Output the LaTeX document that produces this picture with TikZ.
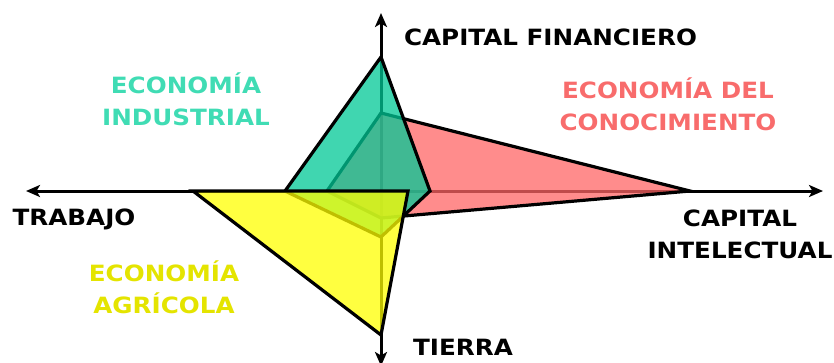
\documentclass[tikz,border=0pt]{standalone}
\usepackage{fontspec}
\setmainfont{DejaVu Sans}[FakeStretch=1.1]
\usetikzlibrary{arrows.meta}
\definecolor{tealfill}{RGB}{0,200,150}
\definecolor{redfill}{RGB}{255,101,101}
\definecolor{yelfill}{RGB}{255,255,0}
\definecolor{tealtxt}{RGB}{64,220,180}
\definecolor{redtxt}{RGB}{248,108,108}
\definecolor{yeltxt}{RGB}{228,228,0}
\begin{document}
\begin{tikzpicture}[x=1pt,y=-1pt,
  axis/.style={line width=3pt,-{Stealth[length=14pt,width=12pt,inset=3.5pt]}},
  poly/.style={line width=3.2pt,draw=black,fill opacity=0.75,line join=miter},
  lbl/.style={font=\fontsize{22.4}{32}\selectfont\bfseries,inner sep=0pt,align=center}]
\useasboundingbox (0,0) rectangle (834,362);
\coordinate (O) at (381,191);
\coordinate (N) at (381,13);
\coordinate (S) at (381,366);
\coordinate (W) at (26,191);
\coordinate (E) at (823,191);
\draw[axis] (O) -- (N);
\draw[axis] (O) -- (S);
\draw[axis] (O) -- (W);
\draw[axis] (O) -- (E);
% conocimiento
\coordinate (r1) at (381,113);
\coordinate (r2) at (690,191);
\coordinate (r3) at (381,218);
\coordinate (r4) at (327,191);
% industrial
\coordinate (t1) at (381,57);
\coordinate (t2) at (430,191);
\coordinate (t3) at (381,237);
\coordinate (t4) at (285,191);
% agricola
\coordinate (y1) at (381,191);
\coordinate (y2) at (408,191);
\coordinate (y3) at (381,335);
\coordinate (y4) at (193,191);
\filldraw[poly,fill=redfill] (r1) -- (r2) -- (r3) -- (r4) -- cycle;
\filldraw[poly,fill=tealfill] (t1) -- (t2) -- (t3) -- (t4) -- cycle;
\filldraw[poly,fill=yelfill] (y1) -- (y2) -- (y3) -- (y4) -- cycle;
\node[lbl] (fin) at (550.5,37) {CAPITAL FINANCIERO};
\node[lbl,text=tealtxt] (ind) at (186,99) {ECONOMÍA\\INDUSTRIAL};
\node[lbl,text=redtxt] (con) at (668,104) {ECONOMÍA DEL\\CONOCIMIENTO};
\node[lbl] (int) at (740,234.5) {CAPITAL\\INTELECTUAL};
\node[lbl] (tra) at (74,219) {TRABAJO};
\node[lbl,text=yeltxt] (agr) at (164,287) {ECONOMÍA\\AGRÍCOLA};
\node[lbl] (tie) at (463,347) {TIERRA};
\end{tikzpicture}
\end{document}
